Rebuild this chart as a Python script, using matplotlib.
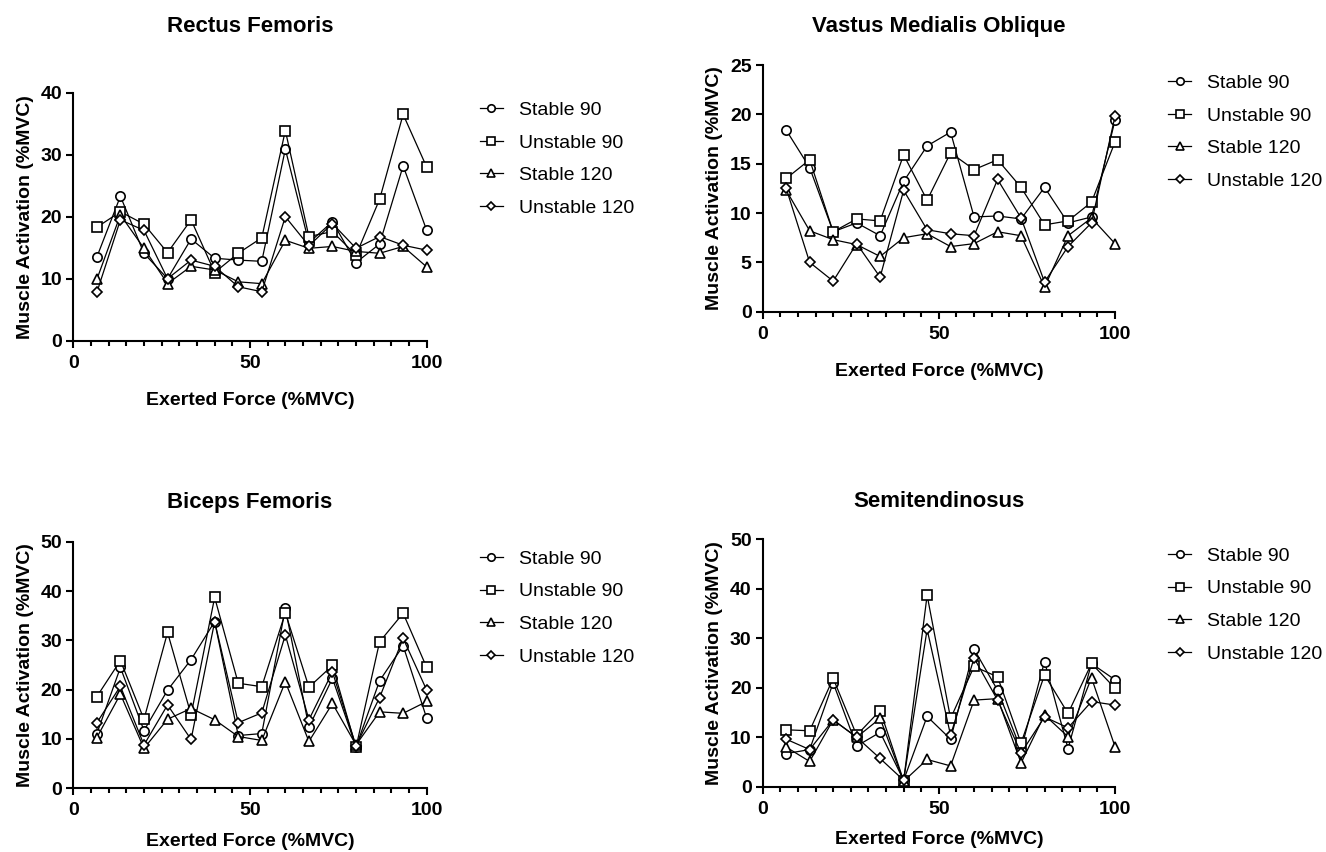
import numpy as np
import matplotlib
matplotlib.use('Agg')
import matplotlib.pyplot as plt
from matplotlib.ticker import MultipleLocator

plt.rcParams['font.family'] = ['Liberation Sans', 'DejaVu Sans']

# exerted force (%MVC), 15 levels
force = [6.67, 13.33, 20, 26.67, 33.33, 40, 46.67, 53.33, 60, 66.67, 73.33, 80, 86.67, 93.33, 100]
series_names = ['Stable 90', 'Unstable 90', 'Stable 120', 'Unstable 120']

rf_s90 = [13.5, 23.3, 14.1, 10.0, 16.4, 13.3, 13.0, 12.8, 30.9, 15.8, 19.2, 12.6, 15.6, 28.2, 17.8]
rf_u90 = [18.3, 20.8, 18.8, 14.2, 19.5, 11.0, 14.1, 16.6, 33.9, 16.8, 17.6, 13.8, 22.8, 36.5, 28.0]
rf_s120 = [9.9, 20.3, 14.9, 9.2, 12.0, 11.4, 9.5, 9.2, 16.2, 14.9, 15.2, 14.4, 14.1, 15.2, 11.9]
rf_u120 = [7.8, 19.5, 17.8, 10.0, 13.0, 12.0, 8.7, 7.9, 20.0, 15.3, 18.9, 14.9, 16.8, 15.4, 14.6]

vmo_s90 = [18.4, 14.6, 8.1, 9.0, 7.7, 13.2, 16.8, 18.2, 9.6, 9.7, 9.4, 12.6, 9.0, 9.6, 19.4]
vmo_u90 = [13.5, 15.4, 8.1, 9.4, 9.2, 15.9, 11.3, 16.1, 14.4, 15.4, 12.6, 8.8, 9.2, 11.1, 17.2]
vmo_s120 = [12.3, 8.2, 7.3, 6.8, 5.6, 7.5, 7.9, 6.6, 6.9, 8.1, 7.7, 2.5, 7.7, 9.5, 6.9]
vmo_u120 = [12.5, 5.0, 3.1, 6.9, 3.5, 12.3, 8.3, 7.9, 7.7, 13.4, 9.5, 3.0, 6.6, 9.0, 19.8]

bf_s90 = [11.1, 24.5, 11.7, 19.9, 26.1, 33.8, 10.7, 11.1, 36.5, 12.4, 22.3, 8.4, 21.8, 28.9, 14.2]
bf_u90 = [18.6, 25.9, 14.0, 31.6, 14.9, 38.7, 21.3, 20.6, 35.6, 20.5, 24.9, 8.3, 29.7, 35.5, 24.5]
bf_s120 = [10.3, 19.1, 8.1, 14.0, 16.2, 13.9, 10.5, 9.7, 21.6, 9.5, 17.2, 8.8, 15.5, 15.2, 17.6]
bf_u120 = [13.3, 20.7, 8.8, 16.9, 9.9, 33.8, 13.3, 15.3, 31.1, 13.9, 23.6, 8.6, 18.4, 30.4, 19.9]

st_s90 = [6.7, 7.5, 21.0, 8.2, 11.0, 1.3, 14.2, 9.6, 27.8, 19.5, 7.5, 25.3, 7.7, 24.9, 21.6]
st_u90 = [11.5, 11.3, 21.9, 10.4, 15.4, 1.2, 38.7, 13.8, 24.3, 22.2, 8.8, 22.6, 14.8, 24.9, 19.9]
st_s120 = [8.0, 5.1, 13.5, 10.0, 13.8, 1.1, 5.5, 4.2, 17.5, 17.8, 4.8, 14.5, 10.1, 22.0, 8.1]
st_u120 = [9.6, 7.5, 13.5, 10.0, 5.7, 1.3, 31.8, 10.4, 26.0, 17.5, 6.8, 14.1, 11.9, 17.2, 16.5]

W, H = 1326, 852
fig = plt.figure(figsize=(W/100, H/100), dpi=100)

def px_axes(x0, x1, ytop, ybot):
    return fig.add_axes([x0/W, 1-ybot/H, (x1-x0)/W, (ybot-ytop)/H])

markers = [('o', 6.7), ('s', 6.5), ('^', 7.0), ('D', 4.6)]

# title, axes box in px, ymax, ystep, data, title baseline y px, legend top, xlabel pad
panels = [
    ('Rectus Femoris', (73.3, 426.7, 92.7, 340.7), 40, 10, [rf_s90, rf_u90, rf_s120, rf_u120], 32, 0.966, 15),
    ('Vastus Medialis Oblique', (762.7, 1115, 65, 311.7), 25, 5, [vmo_s90, vmo_u90, vmo_s120, vmo_u120], 32, 0.963, 15),
    ('Biceps Femoris', (73.3, 426.7, 541.7, 788.3), 50, 10, [bf_s90, bf_u90, bf_s120, bf_u120], 508, 0.966, 10),
    ('Semitendinosus', (762.7, 1115, 539.3, 786.7), 50, 10, [st_s90, st_u90, st_s120, st_u120], 507, 0.969, 10),
]

for title, box, ymax, ystep, data, ty, legy, xpad in panels:
    ax = px_axes(*box)
    for vals, name, (m, ms) in zip(data, series_names, markers):
        ax.plot(force, vals, color='black', lw=0.9, marker=m, markersize=ms,
                markerfacecolor='white', markeredgecolor='black', markeredgewidth=1.2,
                label=name, clip_on=False)
    ax.set_xlim(0, 100)
    ax.set_ylim(0, ymax)
    ax.xaxis.set_major_locator(MultipleLocator(50))
    ax.xaxis.set_minor_locator(MultipleLocator(5))
    ax.yaxis.set_major_locator(MultipleLocator(ystep))
    for s in ['top', 'right']:
        ax.spines[s].set_visible(False)
    for s in ['left', 'bottom']:
        ax.spines[s].set_linewidth(1.5)
    ax.tick_params(which='major', length=5, width=1.5, labelsize=14, pad=3)
    ax.tick_params(axis='x', which='major', pad=5)
    ax.tick_params(which='minor', length=3.5, width=1.5)
    for lab in ax.get_xticklabels() + ax.get_yticklabels():
        lab.set_fontweight('bold')
    ax.set_xlabel('Exerted Force (%MVC)', fontsize=14, fontweight='bold', labelpad=xpad)
    ax.set_ylabel('Muscle Activation (%MVC)', fontsize=14, fontweight='bold', labelpad=5)
    ax.legend(loc='upper left', bbox_to_anchor=(1.15, legy), frameon=False, fontsize=14,
              borderpad=0, borderaxespad=0, handlelength=1.2, handletextpad=0.8,
              labelspacing=0.78, markerscale=0.8)
    cx = (box[0] + box[1]) / 2
    fig.text(cx/W, 1-ty/H, title, fontsize=16, fontweight='bold', ha='center', va='baseline')

fig.savefig('out.png', dpi=100)
